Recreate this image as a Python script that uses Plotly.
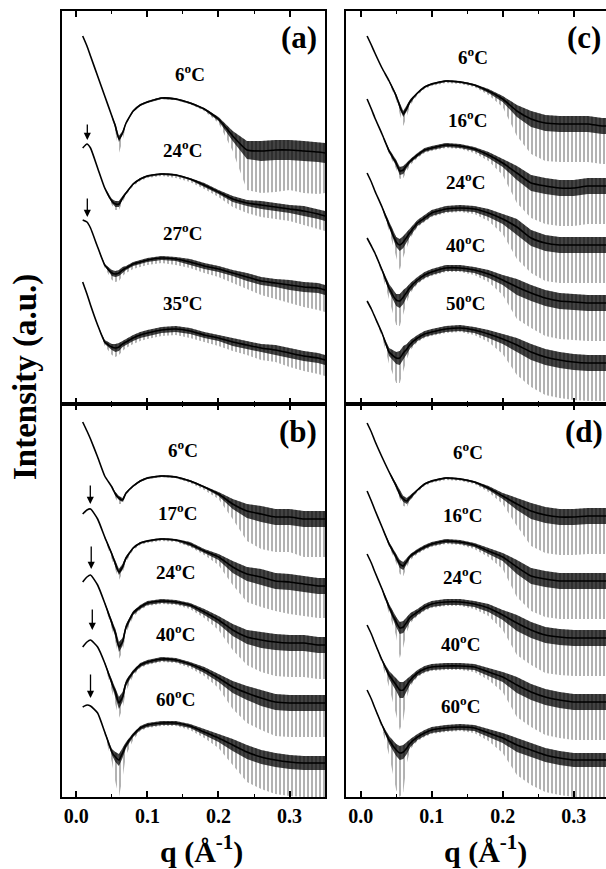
import plotly.graph_objects as go

SERIF = "Liberation Serif"
W_PX, H_PX = 606, 869

# ---------------- data (intensity in arbitrary units, curves offset) ----------------
Q = [0.009, 0.015, 0.02, 0.03, 0.04, 0.05, 0.055, 0.06, 0.065, 0.07, 0.08, 0.09, 0.10,
     0.12, 0.14, 0.16, 0.18, 0.20, 0.22, 0.24, 0.26, 0.28, 0.30, 0.32, 0.34, 0.35]

TICK_VALS = [0.0, 0.1, 0.2, 0.3]
TICK_TEXT = ["0.0", "0.1", "0.2", "0.3"]
MINOR_VALS = [0.05, 0.15, 0.25]

# Panel (a)
A_TEMPS = ["6", "24", "27", "35"]
A_6C = [368, 358, 348, 328, 308, 288, 278, 265, 271, 281, 293, 299, 302, 306, 305, 301, 295, 285, 268, 254, 253, 254, 254, 253, 252, 251]
A_24C = [256, 260, 256, 236, 216, 203, 200, 200, 206, 211, 220, 225, 228, 230, 229, 225, 219, 212, 205, 201, 199, 197, 195, 193, 190, 188]
A_27C = [184, 182, 176, 157, 139, 131, 130, 131, 134, 136, 140, 142, 144, 146, 145, 142, 138, 135, 131, 127, 123, 121, 119, 117, 116, 114]
A_35C = [122, 110, 99, 79, 62, 57, 56, 57, 60, 62, 66, 69, 71, 74, 75, 73, 69, 66, 62, 59, 56, 54, 51, 48, 46, 44]
# noise: dense-core half width (W) and downward spike depth (S)
A_W = [
    [0, 0, 0, 0, 0, 1, 2, 3, 2, 1, 1, 1, 1, 1, 1, 1, 1, 2, 5, 9, 10, 10, 10, 10, 10, 10],
    [0, 0, 0, 0, 1, 2, 3, 3, 2, 1, 1, 1, 1, 1, 1, 1, 2, 2, 3, 3, 4, 4, 4, 5, 5, 5],
    [0, 0, 0, 0, 1, 3, 3, 3, 3, 2, 2, 2, 2, 2, 2, 3, 3, 3, 3, 4, 4, 4, 5, 5, 5, 5],
    [0, 0, 0, 0, 2, 3, 4, 4, 3, 3, 3, 3, 3, 3, 3, 3, 3, 3, 4, 4, 4, 5, 5, 5, 5, 5],
]
A_S = [
    [0, 0, 0, 0, 0, 2, 6, 14, 8, 2, 1, 1, 1, 1, 1, 1, 2, 4, 15, 40, 42, 42, 40, 42, 42, 40],
    [0, 0, 0, 0, 1, 4, 6, 6, 4, 2, 2, 2, 2, 2, 3, 3, 4, 5, 8, 10, 12, 12, 12, 14, 15, 15],
    [0, 0, 0, 1, 3, 7, 8, 8, 6, 5, 5, 5, 5, 5, 6, 6, 7, 8, 10, 12, 14, 16, 18, 20, 22, 22],
    [0, 0, 0, 1, 4, 8, 9, 8, 7, 6, 6, 6, 6, 6, 6, 7, 7, 8, 9, 10, 12, 12, 14, 15, 16, 16],
]
A_LABEL_Q = [0.160, 0.150, 0.149, 0.149]
A_LABEL_I = [331, 255, 172, 102]
A_ARROW_Q = [0.0155, 0.0155]
A_ARROW_TAIL = [281, 207]
A_ARROW_TIP = [264, 187]

# Panel (b)
B_TEMPS = ["6", "17", "24", "40", "60"]
B_6C = [375, 366, 358, 340, 321, 310, 303, 299, 297, 304, 311, 316, 319, 321, 320, 316, 310, 303, 293, 286, 283, 280, 280, 278, 278, 278]
B_17C = [283, 287, 288, 278, 260, 243, 233, 225, 230, 239, 249, 254, 256, 258, 257, 253, 246, 240, 230, 223, 220, 216, 215, 213, 211, 211]
B_24C = [215, 220, 222, 212, 194, 174, 164, 150, 155, 170, 184, 190, 194, 196, 195, 192, 185, 177, 167, 160, 157, 155, 154, 154, 152, 152]
B_40C = [150, 155, 157, 150, 134, 114, 105, 94, 100, 114, 125, 132, 135, 138, 137, 133, 127, 119, 110, 104, 99, 95, 94, 94, 94, 94]
B_60C = [90, 92, 91, 84, 65, 45, 40, 37, 44, 52, 62, 69, 72, 74, 74, 71, 65, 59, 52, 45, 40, 37, 35, 34, 34, 34]
B_W = [
    [0, 0, 0, 0, 0, 1, 2, 2, 2, 1, 1, 1, 1, 1, 1, 1, 1, 2, 5, 7, 8, 8, 8, 8, 8, 8],
    [0, 0, 0, 0, 1, 2, 3, 3, 3, 2, 1, 1, 1, 1, 1, 2, 2, 3, 6, 7, 8, 8, 8, 8, 8, 8],
    [0, 0, 0, 0, 1, 3, 4, 5, 4, 3, 2, 2, 2, 2, 2, 2, 3, 4, 6, 7, 8, 8, 8, 8, 8, 8],
    [0, 0, 0, 0, 1, 3, 5, 6, 5, 3, 2, 2, 2, 2, 2, 2, 3, 4, 6, 7, 8, 8, 8, 8, 8, 8],
    [0, 0, 0, 0, 1, 3, 5, 6, 5, 3, 2, 2, 2, 2, 2, 2, 3, 4, 6, 7, 7, 7, 7, 7, 7, 7],
]
B_S = [
    [0, 0, 0, 0, 0, 2, 4, 6, 4, 2, 1, 1, 1, 1, 1, 2, 3, 5, 15, 30, 35, 35, 35, 38, 38, 38],
    [0, 0, 0, 0, 2, 4, 6, 8, 6, 4, 2, 2, 2, 2, 2, 3, 4, 8, 18, 28, 30, 30, 32, 32, 32, 32],
    [0, 0, 0, 0, 2, 6, 9, 12, 10, 6, 4, 3, 3, 3, 3, 4, 6, 10, 20, 28, 32, 34, 34, 34, 34, 34],
    [0, 0, 0, 0, 2, 8, 12, 15, 12, 8, 4, 3, 3, 3, 3, 4, 6, 10, 22, 30, 32, 34, 34, 34, 34, 34],
    [0, 0, 0, 0, 3, 10, 25, 37, 25, 10, 5, 3, 3, 3, 3, 4, 6, 10, 20, 30, 32, 34, 34, 34, 34, 34],
]
B_LABEL_Q = [0.150, 0.143, 0.140, 0.139, 0.139]
B_LABEL_I = [348, 285, 226, 164, 99]
B_ARROW_Q = [0.0197, 0.021, 0.0225, 0.020]
B_ARROW_TAIL = [313, 252, 189, 124]
B_ARROW_TIP = [293, 228, 167, 99]

# Panel (c)
C_TEMPS = ["6", "16", "24", "40", "50"]
C_6C = [368, 359, 351, 336, 323, 308, 298, 290, 296, 303, 311, 317, 320, 323, 322, 319, 313, 305, 293, 285, 281, 280, 280, 280, 278, 278]
C_16C = [305, 295, 286, 270, 253, 241, 233, 234, 239, 243, 249, 254, 256, 259, 258, 255, 249, 241, 231, 221, 218, 216, 216, 218, 218, 218]
C_24C = [231, 222, 213, 197, 179, 162, 159, 162, 167, 172, 181, 186, 191, 195, 196, 195, 191, 185, 177, 166, 161, 159, 159, 159, 159, 159]
C_40C = [166, 158, 151, 134, 116, 104, 103, 107, 112, 117, 124, 129, 132, 136, 136, 134, 130, 124, 117, 111, 106, 103, 102, 101, 101, 101]
C_50C = [103, 95, 87, 71, 52, 46, 46, 51, 55, 60, 66, 70, 72, 75, 76, 74, 70, 65, 59, 52, 47, 44, 42, 41, 41, 41]
C_W = [
    [0, 0, 0, 0, 1, 2, 3, 3, 3, 2, 1, 1, 1, 1, 1, 1, 2, 3, 6, 8, 8, 8, 8, 8, 8, 8],
    [0, 0, 0, 0, 2, 3, 4, 4, 3, 2, 2, 2, 2, 2, 2, 2, 3, 4, 7, 8, 8, 8, 8, 8, 8, 8],
    [0, 0, 0, 1, 3, 5, 6, 6, 5, 4, 3, 3, 3, 3, 3, 3, 4, 5, 8, 8, 8, 8, 8, 8, 8, 8],
    [0, 0, 0, 1, 4, 6, 7, 7, 5, 4, 3, 3, 3, 3, 3, 3, 4, 5, 8, 8, 8, 8, 8, 8, 8, 8],
    [0, 0, 0, 1, 4, 6, 7, 7, 5, 4, 3, 3, 3, 3, 3, 3, 4, 5, 7, 8, 8, 8, 8, 8, 8, 8],
]
C_S = [
    [0, 0, 0, 0, 2, 4, 8, 12, 8, 4, 2, 2, 2, 2, 2, 2, 4, 8, 25, 35, 38, 38, 38, 38, 38, 38],
    [0, 0, 0, 1, 3, 6, 8, 8, 6, 4, 3, 3, 3, 3, 3, 4, 6, 12, 30, 35, 38, 38, 38, 38, 38, 38],
    [0, 0, 0, 2, 6, 14, 25, 15, 10, 6, 4, 4, 4, 4, 4, 5, 8, 15, 32, 35, 38, 38, 38, 38, 38, 38],
    [0, 0, 1, 4, 12, 25, 25, 18, 10, 6, 4, 4, 4, 4, 4, 5, 8, 15, 32, 35, 38, 38, 38, 38, 38, 38],
    [0, 0, 1, 4, 12, 25, 25, 18, 10, 6, 4, 4, 4, 4, 4, 5, 8, 15, 30, 35, 38, 38, 38, 38, 38, 38],
]
C_LABEL_Q = [0.158, 0.150, 0.148, 0.147, 0.147]
C_LABEL_I = [348, 285, 223, 160, 102]

# Panel (d)
D_TEMPS = ["6", "16", "24", "40", "60"]
D_6C = [374, 365, 356, 340, 325, 311, 303, 298, 296, 300, 307, 313, 316, 319, 318, 315, 309, 301, 293, 286, 282, 280, 280, 281, 281, 281]
D_16C = [306, 296, 287, 270, 253, 240, 233, 231, 236, 241, 246, 250, 253, 256, 255, 252, 246, 240, 230, 221, 218, 216, 216, 216, 216, 216]
D_24C = [243, 234, 225, 208, 190, 175, 169, 170, 175, 180, 185, 190, 193, 195, 195, 193, 189, 182, 174, 167, 162, 160, 159, 159, 159, 159]
D_40C = [172, 163, 154, 137, 122, 112, 107, 107, 112, 117, 124, 128, 130, 131, 131, 130, 125, 120, 112, 105, 100, 97, 95, 95, 95, 95]
D_60C = [107, 98, 89, 72, 57, 47, 44, 45, 49, 54, 60, 64, 67, 69, 70, 69, 64, 59, 52, 47, 42, 39, 37, 37, 37, 37]
D_W = [
    [0, 0, 0, 0, 1, 2, 3, 3, 3, 2, 1, 1, 1, 1, 1, 1, 2, 3, 6, 8, 8, 8, 8, 8, 8, 8],
    [0, 0, 0, 0, 2, 3, 4, 4, 3, 2, 2, 2, 2, 2, 2, 2, 3, 4, 7, 8, 8, 8, 8, 8, 8, 8],
    [0, 0, 0, 1, 3, 5, 6, 6, 5, 4, 3, 3, 3, 3, 3, 3, 4, 5, 8, 8, 8, 8, 8, 8, 8, 8],
    [0, 0, 0, 1, 4, 6, 8, 8, 6, 4, 3, 3, 3, 3, 3, 3, 4, 5, 8, 8, 8, 8, 8, 8, 8, 8],
    [0, 0, 0, 1, 4, 6, 7, 7, 6, 4, 3, 3, 3, 3, 3, 3, 4, 5, 7, 7, 7, 7, 7, 7, 7, 7],
]
D_S = [
    [0, 0, 0, 0, 1, 3, 5, 7, 6, 3, 2, 2, 2, 2, 2, 2, 4, 8, 22, 35, 38, 38, 38, 38, 38, 38],
    [0, 0, 0, 1, 3, 6, 10, 10, 6, 4, 3, 3, 3, 3, 3, 4, 6, 12, 30, 35, 38, 38, 38, 38, 38, 38],
    [0, 0, 0, 2, 6, 14, 30, 20, 10, 6, 4, 4, 4, 4, 4, 5, 8, 15, 32, 35, 38, 38, 38, 38, 38, 38],
    [0, 0, 1, 4, 12, 30, 40, 30, 12, 6, 4, 4, 4, 4, 4, 5, 8, 15, 32, 35, 38, 38, 38, 38, 38, 38],
    [0, 0, 1, 4, 15, 40, 44, 40, 15, 6, 4, 4, 4, 4, 4, 5, 8, 15, 30, 35, 37, 37, 37, 37, 37, 37],
]
D_LABEL_Q = [0.151, 0.144, 0.143, 0.141, 0.141]
D_LABEL_I = [346, 283, 221, 154, 92]

# ---------------- layout geometry (pixels) ----------------
LEFT_X = (62, 325)
RIGHT_X = (346, 606)
TOP_Y = (11, 404)
BOT_Y = (404, 797)
LEFT_RANGE = [-0.0201, 0.3498]
RIGHT_RANGE = [-0.0207, 0.3455]
Y_RANGE = [0, 393]


def xdom(px):
    return [px[0] / W_PX, px[1] / W_PX]


def ydom(py):
    return [1 - py[1] / H_PX, 1 - py[0] / H_PX]


PANELS = [
    dict(name="a", xa="x", ya="y", X=LEFT_X, Y=TOP_Y, rng=LEFT_RANGE,
         curves=[A_6C, A_24C, A_27C, A_35C], W=A_W, S=A_S, temps=A_TEMPS,
         lq=A_LABEL_Q, li=A_LABEL_I, aq=A_ARROW_Q, at=A_ARROW_TAIL, ah=A_ARROW_TIP,
         letter_q=0.3136, right=True, labels=False),
    dict(name="b", xa="x2", ya="y2", X=LEFT_X, Y=BOT_Y, rng=LEFT_RANGE,
         curves=[B_6C, B_17C, B_24C, B_40C, B_60C], W=B_W, S=B_S, temps=B_TEMPS,
         lq=B_LABEL_Q, li=B_LABEL_I, aq=B_ARROW_Q, at=B_ARROW_TAIL, ah=B_ARROW_TIP,
         letter_q=0.3122, right=True, labels=True),
    dict(name="c", xa="x3", ya="y3", X=RIGHT_X, Y=TOP_Y, rng=RIGHT_RANGE,
         curves=[C_6C, C_16C, C_24C, C_40C, C_50C], W=C_W, S=C_S, temps=C_TEMPS,
         lq=C_LABEL_Q, li=C_LABEL_I, aq=[], at=[], ah=[],
         letter_q=0.3145, right=False, labels=False),
    dict(name="d", xa="x4", ya="y4", X=RIGHT_X, Y=BOT_Y, rng=RIGHT_RANGE,
         curves=[D_6C, D_16C, D_24C, D_40C, D_60C], W=D_W, S=D_S, temps=D_TEMPS,
         lq=D_LABEL_Q, li=D_LABEL_I, aq=[], at=[], ah=[],
         letter_q=0.3145, right=False, labels=True),
]

fig = go.Figure()
annotations = []
layout_axes = {}

for p in PANELS:
    xa, ya = p["xa"], p["ya"]
    for ci, I in enumerate(p["curves"]):
        Wc, Sc = p["W"][ci], p["S"][ci]
        idx = [k for k in range(len(Q)) if Wc[k] > 0 or Sc[k] > 0]
        if idx:
            lo, hi = idx[0], idx[-1]
            qs = Q[lo:hi + 1]
            up = [I[k] + Wc[k] for k in range(lo, hi + 1)]
            dn = [I[k] - Sc[k] for k in range(lo, hi + 1)]
            core_dn = [I[k] - Wc[k] for k in range(lo, hi + 1)]
            # sparse downward spikes (thin vertical hatch)
            fig.add_trace(go.Scatter(
                x=qs + qs[::-1], y=up + dn[::-1], xaxis=xa, yaxis=ya,
                mode="lines", fill="toself", fillcolor="rgba(0,0,0,0)",
                fillpattern=dict(shape="|", size=4, solidity=0.25,
                                 fgcolor="black", fgopacity=0.6),
                line=dict(width=0), hoverinfo="skip", showlegend=False))
            # dense noisy core (denser vertical hatch)
            fig.add_trace(go.Scatter(
                x=qs + qs[::-1], y=up + core_dn[::-1], xaxis=xa, yaxis=ya,
                mode="lines", fill="toself", fillcolor="rgba(0,0,0,0.35)",
                fillpattern=dict(shape="|", size=2, solidity=0.6,
                                 fgcolor="black", fgopacity=1.0),
                line=dict(width=0), hoverinfo="skip", showlegend=False))
        fig.add_trace(go.Scatter(
            x=Q, y=I, xaxis=xa, yaxis=ya, mode="lines",
            line=dict(color="black", width=1.6, shape="spline", smoothing=0.5),
            hoverinfo="skip", showlegend=False))

    xref, yref = xa, ya
    for t, lq, li in zip(p["temps"], p["lq"], p["li"]):
        annotations.append(dict(
            x=lq, y=li, xref=xref, yref=yref, showarrow=False,
            xanchor="center", yanchor="middle",
            text=f"<b>{t}<sup>o</sup>C</b>",
            font=dict(family=SERIF, size=19, color="black")))
    for q, tail, tip in zip(p["aq"], p["at"], p["ah"]):
        annotations.append(dict(
            x=q, y=tip, ax=q, ay=tail, xref=xref, yref=yref, axref=xref, ayref=yref,
            text="", showarrow=True, arrowhead=2, arrowsize=1.1, arrowwidth=1.3,
            arrowcolor="black"))
    annotations.append(dict(
        x=p["letter_q"], y=366, xref=xref, yref=yref, showarrow=False,
        xanchor="center", yanchor="middle",
        text=f"<b>({p['name']})</b>", font=dict(family=SERIF, size=31, color="black")))

    xkey = "xaxis" if xa == "x" else "xaxis" + xa[1:]
    ykey = "yaxis" if ya == "y" else "yaxis" + ya[1:]
    layout_axes[xkey] = dict(
        domain=xdom(p["X"]), range=p["rng"], anchor=ya,
        showline=True, linecolor="black", linewidth=1.8, mirror="allticks",
        ticks="inside", ticklen=6, tickwidth=1.5, tickcolor="black",
        tickmode="array", tickvals=TICK_VALS, ticktext=TICK_TEXT,
        showticklabels=p["labels"],
        tickfont=dict(family=SERIF, size=20, color="black", weight="bold"),
        minor=dict(ticks="inside", ticklen=3.5, tickwidth=1.2, tickcolor="black",
                   tickmode="array", tickvals=MINOR_VALS),
        showgrid=False, zeroline=False, fixedrange=True)
    layout_axes[ykey] = dict(
        domain=ydom(p["Y"]), range=Y_RANGE, anchor=xa,
        showline=True, linecolor="black", linewidth=1.8, mirror=p["right"],
        ticks="", showticklabels=False, showgrid=False, zeroline=False, fixedrange=True)

# axis titles
annotations.append(dict(
    x=25 / W_PX, y=1 - 377 / H_PX, xref="paper", yref="paper", showarrow=False,
    xanchor="center", yanchor="middle",
    text="<b>Intensity (a.u.)</b>", textangle=-90,
    font=dict(family=SERIF, size=33, color="black")))
for xc in (201, 485):
    annotations.append(dict(
        x=xc / W_PX, y=0.0, xref="paper", yref="paper", showarrow=False,
        xanchor="center", yanchor="bottom", yshift=-2,
        text="<b>q (Å<sup>-1</sup>)</b>",
        font=dict(family=SERIF, size=30, color="black")))

fig.update_layout(
    width=W_PX, height=H_PX, margin=dict(l=0, r=0, t=0, b=0),
    paper_bgcolor="white", plot_bgcolor="white",
    showlegend=False, annotations=annotations, **layout_axes)

fig.write_html("out.html", config={"displayModeBar": False})
